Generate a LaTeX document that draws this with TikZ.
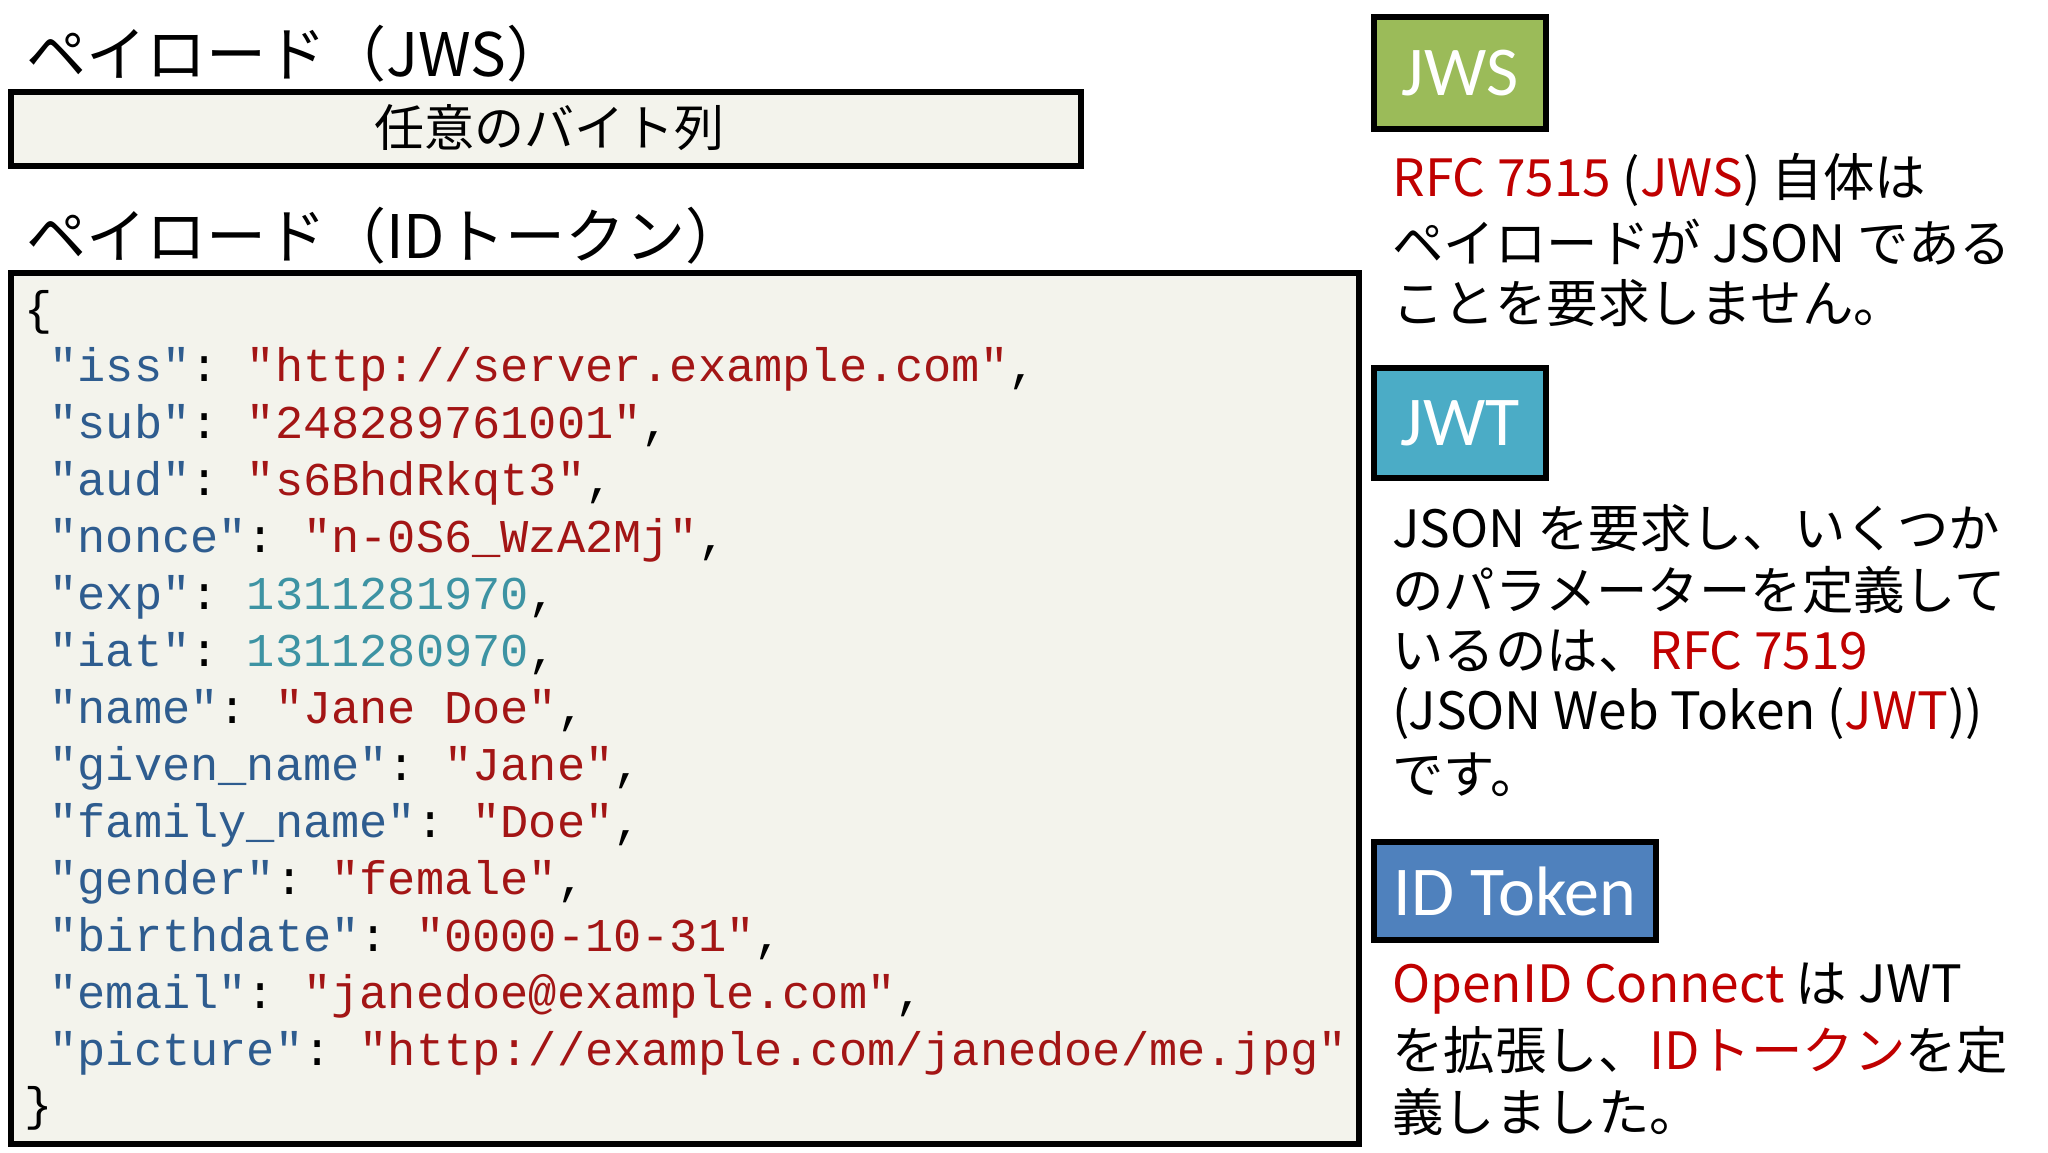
\documentclass[tikz,border=0pt]{standalone}
\usepackage{fontspec}
\setmainfont{Noto Sans CJK JP}
\setmonofont{Liberation Mono}
\newfontfamily\boxfont{Carlito}
\definecolor{kb}{HTML}{2E5C8F}
\definecolor{sr}{HTML}{A31515}
\definecolor{nt}{HTML}{3D93A3}
\definecolor{rr}{HTML}{C00000}
\definecolor{bg}{HTML}{F3F3EC}
\definecolor{gjws}{HTML}{9BBB59}
\definecolor{bjwt}{HTML}{4BACC6}
\definecolor{bid}{HTML}{4F81BD}
\newcommand{\K}[1]{\textcolor{kb}{"#1"}}
\newcommand{\Sv}[1]{\textcolor{sr}{"#1"}}
\newcommand{\N}[1]{\textcolor{nt}{#1}}
\newcommand{\R}[1]{\textcolor{rr}{#1}}
\begin{document}
\begin{tikzpicture}[x=0.5pt,y=-0.5pt,
  title/.style={anchor=west,inner sep=0pt,font=\fontsize{30}{34}\selectfont},
  code/.style={anchor=west,inner sep=0pt,font=\ttfamily\fontsize{23.5}{26}\selectfont},
  tag/.style={draw=black,line width=2.6pt,text=white,font=\boxfont\fontsize{35}{38}\selectfont,inner sep=0pt},
  txt/.style={anchor=west,inner sep=0pt,font=\fontsize{25.7}{30}\selectfont}]
\useasboundingbox (0,0) rectangle (2048,1152);
\fill[white] (0,0) rectangle (2048,1152);
\node[title] (t1) at (26,54) {ペイロード（JWS）};
\draw[line width=2.6pt,fill=bg] (11,92) rectangle (1081,166);
\node[inner sep=0pt,font=\fontsize{25}{28}\selectfont] (b1) at (549,128) {任意のバイト列};
\node[title] (t2) at (26,236) {ペイロード（IDトークン）};
\draw[line width=2.6pt,fill=bg] (11,273) rectangle (1359,1144);
\node[code] (c0) at (24,312) {\{};
\node[code] (c1) at (49,369) {\K{iss}: \Sv{http://server.example.com},};
\node[code] (c2) at (49,426) {\K{sub}: \Sv{248289761001},};
\node[code] (c3) at (49,483) {\K{aud}: \Sv{s6BhdRkqt3},};
\node[code] (c4) at (49,540) {\K{nonce}: \Sv{n-0S6\_WzA2Mj},};
\node[code] (c5) at (49,597) {\K{exp}: \N{1311281970},};
\node[code] (c6) at (49,654) {\K{iat}: \N{1311280970},};
\node[code] (c7) at (49,711) {\K{name}: \Sv{Jane Doe},};
\node[code] (c8) at (49,768) {\K{given\_name}: \Sv{Jane},};
\node[code] (c9) at (49,825) {\K{family\_name}: \Sv{Doe},};
\node[code] (c10) at (49,882) {\K{gender}: \Sv{female},};
\node[code] (c11) at (49,939) {\K{birthdate}: \Sv{0000-10-31},};
\node[code] (c12) at (49,996) {\K{email}: \Sv{janedoe@example.com},};
\node[code] (c13) at (49,1053) {\K{picture}: \Sv{http://example.com/janedoe/me.jpg}};
\node[code] (c14) at (24,1108) {\}};
\node[tag,fill=gjws,minimum width=86pt,minimum height=56pt] (jws) at (1460,73) {JWS};
\node[txt] (a1) at (1392,180) {\R{RFC 7515} (\R{JWS}) 自体は};
\node[txt] (a2) at (1392,242) {ペイロードが JSON である};
\node[txt] (a3) at (1392,303) {ことを要求しません。};
\node[tag,fill=bjwt,minimum width=86pt,minimum height=55pt] (jwt) at (1460,423) {JWT};
\node[txt] (w1) at (1392,528) {JSON を要求し、いくつか};
\node[txt] (w2) at (1392,590) {のパラメーターを定義して};
\node[txt] (w3) at (1392,651) {いるのは、\R{RFC 7519}};
\node[txt] (w4) at (1392,713) {(JSON Web Token (\R{JWT}))};
\node[txt] (w5) at (1392,775) {です。};
\node[tag,fill=bid,minimum width=141pt,minimum height=49pt] (idt) at (1515,891) {ID Token};
\node[txt] (i1) at (1392,989) {\R{OpenID Connect} は JWT};
\node[txt] (i2) at (1392,1050) {を拡張し、\R{IDトークン}を定};
\node[txt] (i3) at (1392,1112) {義しました。};
\end{tikzpicture}
\end{document}
